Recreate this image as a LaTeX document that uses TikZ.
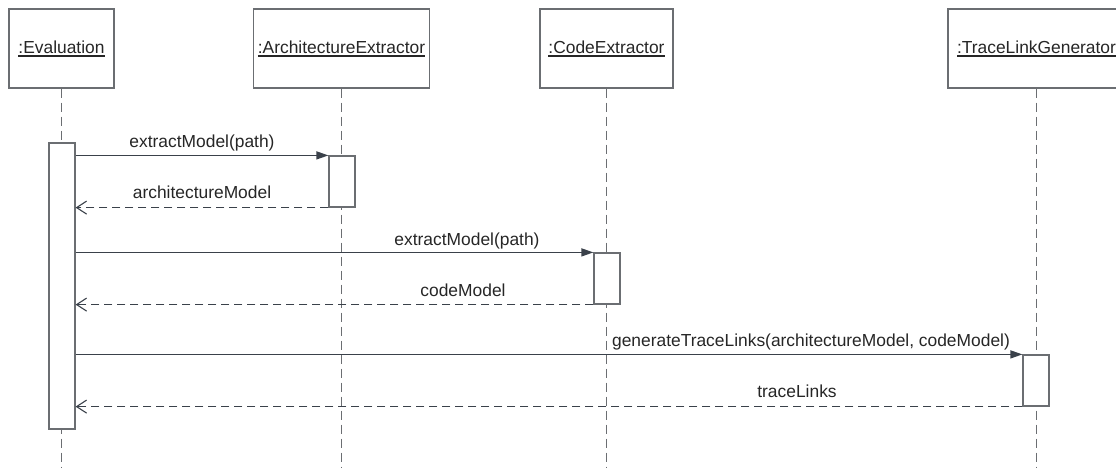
\documentclass[tikz,border=0pt]{standalone}
\usepackage{fontspec}
\setmainfont{Liberation Sans}
\usetikzlibrary{arrows.meta}

\definecolor{linegray}{HTML}{3A414A}
\definecolor{boxgray}{HTML}{6B6E72}

% object name with a heavier underline
\newcommand\objname[1]{\setbox0\hbox{#1}\rlap{\rule[-3.4pt]{\wd0}{1.5pt}}\box0}

\begin{document}
\begin{tikzpicture}[x=1pt, y=-1pt, every node/.style={font=\fontsize{17.4}{21}\selectfont, text=black!85},
  head/.style={draw=boxgray, line width=1.2pt, fill=white, minimum height=79pt, inner sep=0pt},
  act/.style={draw=boxgray, line width=1.2pt, fill=white, minimum width=26pt, inner sep=0pt},
  life/.style={draw=boxgray, line width=1.1pt, dash pattern=on 9pt off 5pt},
  call/.style={draw=linegray, line width=1.3pt, -{Triangle[length=12pt,width=8pt]}},
  reply/.style={draw=linegray, line width=1.1pt, dash pattern=on 8pt off 5pt, -{Straight Barb[length=10pt,width=13pt]}},
  msg/.style={anchor=base, inner sep=0pt}]
  \useasboundingbox (0,0) rectangle (1116,468);

  % participants
  \node[head, minimum width=105pt] (eval) at (61.5,48.5) {\objname{:Evaluation}};
  \node[head, minimum width=176pt] (arch) at (341.5,48.5) {\objname{:ArchitectureExtractor}};
  \node[head, minimum width=133pt] (code) at (606.5,48.5) {\objname{:CodeExtractor}};
  \node[head, minimum width=177pt] (trace) at (1036.5,48.5) {\objname{:TraceLinkGenerator}};

  % lifelines
  \coordinate (evalEnd) at (61.5,468);
  \coordinate (archEnd) at (341.5,468);
  \coordinate (codeEnd) at (606.5,468);
  \coordinate (traceEnd) at (1036.5,468);
  \draw[life] (eval.south) -- (evalEnd);
  \draw[life] (arch.south) -- (archEnd);
  \draw[life] (code.south) -- (codeEnd);
  \draw[life] (trace.south) -- (traceEnd);

  % activations
  \node[act, minimum height=286pt] (evalAct) at (62,286) {};
  \node[act, minimum height=51pt] (archAct) at (342,181.5) {};
  \node[act, minimum height=51pt] (codeAct) at (607,278.5) {};
  \node[act, minimum height=51pt] (traceAct) at (1036,380.5) {};

  % messages
  \draw[call] (evalAct.east |- archAct.north) -- (archAct.north west);
  \node[msg] at (202,147) {extractModel(path)};
  \draw[reply] (archAct.south west) -- (evalAct.east |- archAct.south);
  \node[msg] at (202,198) {architectureModel};

  \draw[call] (evalAct.east |- codeAct.north) -- (codeAct.north west);
  \node[msg] at (467,245) {extractModel(path)};
  \draw[reply] (codeAct.south west) -- (evalAct.east |- codeAct.south);
  \node[msg] at (463,296) {codeModel};

  \draw[call] (evalAct.east |- traceAct.north) -- (traceAct.north west);
  \node[msg] at (811,346) {generateTraceLinks(architectureModel, codeModel)};
  \draw[reply] (traceAct.south west) -- (evalAct.east |- traceAct.south);
  \node[msg] at (797,397) {traceLinks};
\end{tikzpicture}
\end{document}
